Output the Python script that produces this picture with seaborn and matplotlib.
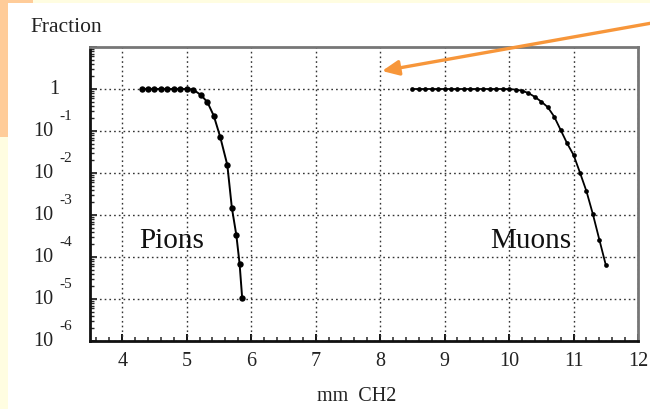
import numpy as np
import pandas as pd
import matplotlib
matplotlib.use("Agg")
import matplotlib.pyplot as plt
from matplotlib.patches import Rectangle
from matplotlib.ticker import FixedLocator, MultipleLocator, NullFormatter, LogLocator
import seaborn as sns

# Surviving fraction vs. absorber thickness (mm CH2)
pion_x = [4.3, 4.4, 4.5, 4.6, 4.7, 4.8, 4.9, 5.0, 5.1,
          5.22, 5.32, 5.42, 5.52, 5.63, 5.70, 5.77, 5.82, 5.86]
pion_y = [1.0, 1.0, 1.0, 1.0, 1.0, 1.0, 1.0, 1.0, 0.97,
          0.72, 0.49, 0.23, 0.072, 0.0155, 1.5e-3, 3.3e-4, 7.0e-5, 1.07e-5]

muon_x = [8.5, 8.6, 8.7, 8.8, 8.9, 9.0, 9.1, 9.2, 9.3, 9.4, 9.5, 9.6, 9.7,
          9.8, 9.9, 10.0, 10.1, 10.2, 10.3, 10.4, 10.5, 10.6, 10.7, 10.8,
          10.9, 11.0, 11.1, 11.2, 11.3, 11.4, 11.5]
muon_y = [1.0, 1.0, 1.0, 1.0, 1.0, 1.0, 1.0, 1.0, 1.0, 1.0, 1.0, 1.0, 1.0,
          1.0, 1.0, 0.995, 0.97, 0.91, 0.80, 0.65, 0.50, 0.37, 0.22, 0.106,
          0.051, 0.027, 0.0102, 0.0037, 0.00105, 2.6e-4, 6.5e-5]

x_ticks = [4, 5, 6, 7, 8, 9, 10, 11, 12]
y_exponents = [0, -1, -2, -3, -4, -5, -6]

sns.set_style("white")
plt.rcParams["font.family"] = ["Liberation Serif", "DejaVu Serif"]

W, H = 650, 410
fig = plt.figure(figsize=(W / 100, H / 100), dpi=100, facecolor="white")

# slide decoration strips
def px_rect(x0, y0, x1, y1, color):
    fig.patches.append(Rectangle((x0 / W, 1 - y1 / H), (x1 - x0) / W, (y1 - y0) / H,
                                 transform=fig.transFigure, color=color, zorder=0, lw=0))

cream = "#FFFDE1"
orange = "#FFCC99"
px_rect(33, 0, 650, 4, cream)
px_rect(0, 0, 33, 4, orange)
px_rect(0, 0, 8, 138, orange)
px_rect(0, 138, 8, 410, cream)

ax = fig.add_axes([90 / W, 1 - 342 / H, (638 - 90) / W, (342 - 48) / H])
ax.set_facecolor("white")

df_pi = pd.DataFrame({"x": pion_x, "y": pion_y})
df_mu = pd.DataFrame({"x": muon_x, "y": muon_y})
sns.lineplot(data=df_pi, x="x", y="y", ax=ax, color="black", linewidth=1.4,
             marker="o", markersize=4.6, markeredgewidth=0, zorder=4)
sns.lineplot(data=df_mu, x="x", y="y", ax=ax, color="black", linewidth=1.3,
             marker="o", markersize=3.4, markeredgewidth=0, zorder=4)

ax.set_yscale("log")
ax.set_xlim(3.5, 12)
ax.set_ylim(1e-6, 10)

# grid
grid_kw = dict(color="#333333", linewidth=1.0, linestyle=(0, (1.2, 2.2)), zorder=1)
for xv in x_ticks:
    ax.axvline(xv, **grid_kw)
for e in y_exponents:
    ax.axhline(10.0 ** e, **grid_kw)

# ticks
ax.xaxis.set_major_locator(FixedLocator(x_ticks))
ax.xaxis.set_minor_locator(MultipleLocator(0.2))
ax.yaxis.set_major_locator(FixedLocator([10.0 ** e for e in range(-6, 2)]))
ax.yaxis.set_minor_locator(LogLocator(base=10, subs=np.arange(2, 10)))
ax.yaxis.set_minor_formatter(NullFormatter())
ax.set_yticklabels([])
ax.set_xticklabels([str(v) for v in x_ticks])
ax.tick_params(axis="x", which="major", direction="in", length=5, width=1.3,
               labelsize=14.5, pad=7, colors="black", labelcolor="#222222",
               bottom=True, top=False)
ax.tick_params(axis="x", which="minor", direction="in", length=3, width=1.1,
               bottom=True, top=False)
ax.tick_params(axis="y", which="major", direction="in", length=5, width=1.3,
               left=True, right=False)
ax.tick_params(axis="y", which="minor", direction="in", length=3, width=1.0,
               left=True, right=False)

for side in ("left", "bottom"):
    ax.spines[side].set_color("#111111")
    ax.spines[side].set_linewidth(2.0)
for side in ("top", "right"):
    ax.spines[side].set_color("#777777")
    ax.spines[side].set_linewidth(2.0)
    ax.spines[side].set_visible(True)

# y tick labels written as 10 with raised exponent
ytr = ax.get_yaxis_transform()
for e in y_exponents:
    if e == 0:
        ax.annotate("1", xy=(0, 1.0), xycoords=ytr, xytext=(-31, 1),
                    textcoords="offset pixels", ha="right", va="center",
                    fontsize=14.5, color="#222222")
        continue
    ax.annotate("10", xy=(0, 10.0 ** e), xycoords=ytr, xytext=(-37, 0),
                textcoords="offset pixels", ha="right", va="center",
                fontsize=14.5, color="#222222", annotation_clip=False)
    ax.annotate(f"-{-e}", xy=(0, 10.0 ** e), xycoords=ytr, xytext=(-31, 15),
                textcoords="offset pixels", ha="left", va="center",
                fontsize=11, color="#222222", annotation_clip=False)

ax.set_xlabel("")
ax.set_ylabel("")
fig.text(30 / W, 1 - 27 / H, "Fraction", fontsize=15.5, ha="left", va="center",
         color="#222222")
fig.text(357 / W, 1 - 397 / H, "mm  CH2", fontsize=14.5, ha="center", va="center",
         color="#222222")

ax.text(4.77, 10 ** -3.6, "Pions", fontsize=21, ha="center", va="center", color="#111111")
ax.text(10.33, 10 ** -3.6, "Muons", fontsize=21, ha="center", va="center", color="#111111")

# pointer arrow
ax.annotate("", xy=(382 / W, 1 - 72 / H), xycoords="figure fraction",
            xytext=(652 / W, 1 - 24 / H), textcoords="figure fraction",
            arrowprops=dict(arrowstyle="-|>,head_length=1.0,head_width=0.45",
                            color="#F7963A", lw=2.4, shrinkA=0, shrinkB=0),
            annotation_clip=False, zorder=10)

fig.savefig("out.png", dpi=100, facecolor="white")
